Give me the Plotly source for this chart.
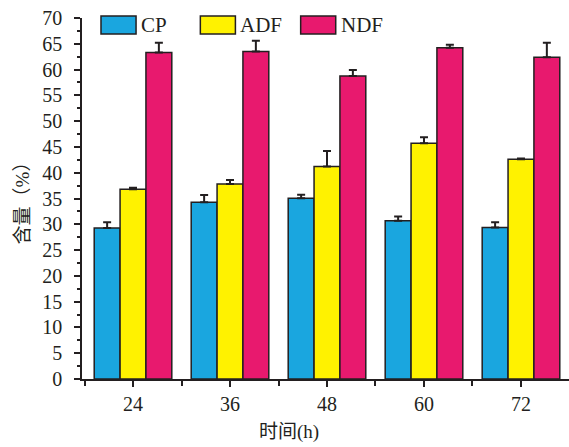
import plotly.graph_objects as go

hours = [24, 36, 48, 60, 72]
series_names = ["CP", "ADF", "NDF"]
cp = [29.3, 34.25, 35.05, 30.7, 29.4]
cp_err = [1.1, 1.45, 0.7, 0.8, 1.0]
adf = [36.8, 37.8, 41.2, 45.7, 42.6]
adf_err = [0.3, 0.8, 3.0, 1.2, 0.15]
ndf = [63.3, 63.5, 58.75, 64.25, 62.4]
ndf_err = [1.9, 2.1, 1.15, 0.55, 2.8]
colors = ["#1aa6df", "#fff200", "#e8196e"]
y_ticks = list(range(0, 75, 5))

SERIF = "Liberation Serif, Times New Roman, Noto Sans CJK SC, serif"
EDGE = "#231f20"

fig = go.Figure()
for name, vals, errs, col in zip(series_names, [cp, adf, ndf], [cp_err, adf_err, ndf_err], colors):
    fig.add_trace(go.Bar(
        x=hours, y=vals, name=name,
        marker=dict(color=col, line=dict(color=EDGE, width=1.5)),
        error_y=dict(type="data", array=errs, arrayminus=[0] * len(errs), symmetric=False,
                     color=EDGE, thickness=2, width=4),
        showlegend=False,
    ))

# custom legend (wide swatches like the reference)
leg_x = [0.039, 0.243, 0.449]  # paper fractions of swatch left edge
sw_w = 0.072
for i, (name, col) in enumerate(zip(series_names, colors)):
    x0 = leg_x[i]
    fig.add_shape(type="rect", xref="paper", yref="paper",
                  x0=x0, x1=x0 + sw_w, y0=1.0 - (34 - 18) / 361, y1=1.0 + 2 / 361,
                  fillcolor=col, line=dict(color=EDGE, width=1.5))
    fig.add_annotation(xref="paper", yref="paper", x=x0 + sw_w + 0.006, y=1.0 - (25 - 18) / 361,
                       text=name, showarrow=False, xanchor="left", yanchor="middle",
                       font=dict(family=SERIF, size=21, color="#231f20"))

fig.add_annotation(xref="paper", yref="paper", x=(289 - 82) / 487, y=-(432 - 379) / 361,
                   text="时间(h)", showarrow=False, xanchor="center", yanchor="middle",
                   font=dict(family=SERIF, size=19, color="#231f20"))

fig.update_layout(
    width=569, height=447,
    margin=dict(l=82, r=0, t=18, b=68),
    paper_bgcolor="white", plot_bgcolor="white",
    barmode="group", bargap=0.2, bargroupgap=0.0,
    font=dict(family=SERIF, size=20, color="#231f20"),
    xaxis=dict(
        range=[17.69, 77.94], tickmode="array", tickvals=hours,
        ticktext=[str(h) for h in hours],
        showline=True, linecolor=EDGE, linewidth=1.5,
        ticks="outside", ticklen=6, tickwidth=1.5, tickcolor=EDGE,
        minor=dict(tickmode="array", tickvals=[h + 6 for h in hours] + [18], ticks="outside", ticklen=5, tickwidth=1.5, tickcolor=EDGE),
        showgrid=False, zeroline=False, automargin=False,
        tickfont=dict(family=SERIF, size=20),
    ),
    yaxis=dict(
        range=[0, 70], tickmode="array", tickvals=y_ticks,
        showline=True, linecolor=EDGE, linewidth=1.5,
        ticks="outside", ticklen=6, tickwidth=1.5, tickcolor=EDGE,
        minor=dict(dtick=2.5, ticks="outside", ticklen=3, tickwidth=1.5, tickcolor=EDGE),
        showgrid=False, zeroline=False, automargin=False,
        tickfont=dict(family=SERIF, size=20),
        ticklabelstandoff=8,
        title=dict(text="含量（%）", font=dict(family=SERIF, size=19), standoff=8),
    ),
)

fig.write_html("out.html", config={"displayModeBar": False},
               post_script="document.body.style.margin='0';")
